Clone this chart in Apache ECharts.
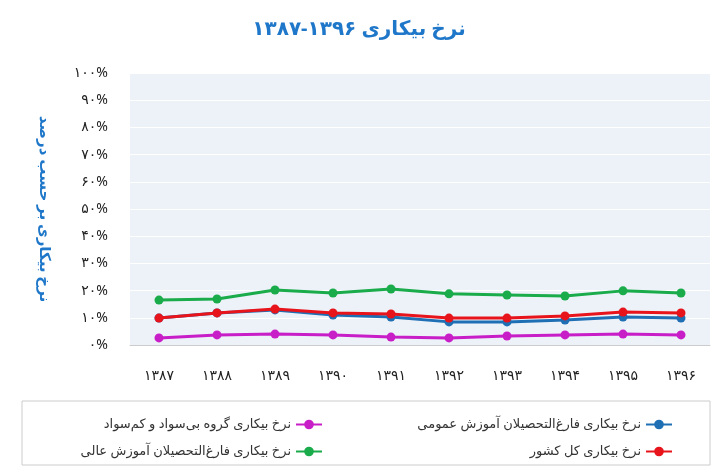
<!DOCTYPE html><html><head><meta charset="utf-8"><script src="https://cdn.jsdelivr.net/npm/echarts@6/dist/echarts.min.js"></script></head><body style="margin:0;background:#fff"><div id="c" style="width:718px;height:473px"></div><script>
const categories=['۱۳۸۷','۱۳۸۸','۱۳۸۹','۱۳۹۰','۱۳۹۱','۱۳۹۲','۱۳۹۳','۱۳۹۴','۱۳۹۵','۱۳۹۶'];
const yTicks=['۰%','۱۰%','۲۰%','۳۰%','۴۰%','۵۰%','۶۰%','۷۰%','۸۰%','۹۰%','۱۰۰%'];
const general=[9.9,11.8,12.9,11.0,10.3,8.5,8.5,9.2,10.3,9.9];
const illiterate=[2.6,3.7,4.0,3.7,2.9,2.6,3.3,3.7,4.0,3.7];
const national=[9.9,11.8,13.2,11.8,11.4,9.9,9.9,10.7,12.1,11.8];
const higher=[16.5,16.9,20.2,19.1,20.6,18.8,18.4,18.0,19.9,19.1];
const names=['نرخ بیکاری فارغ‌التحصیلان آموزش عمومی','نرخ بیکاری گروه بی‌سواد و کم‌سواد','نرخ بیکاری کل کشور','نرخ بیکاری فارغ‌التحصیلان آموزش عالی'];
const colors=['#1f6fb5','#c81ec8','#e8141c','#1aab4b'];
const datas=[general,illiterate,national,higher];
const font='"Noto Sans","DejaVu Sans",sans-serif';
const legPos=[{right:40,top:413},{right:390,top:413},{right:40,top:440},{right:390,top:440}];
const ch=echarts.init(document.getElementById('c'));
ch.setOption({
 title:{text:'نرخ بیکاری ۱۳۹۶-۱۳۸۷',left:'center',top:14,textStyle:{color:'#1f77c9',fontSize:20,fontWeight:'bold',fontFamily:font}},
 graphic:[{type:'rect',shape:{x:22,y:401,width:688,height:64},style:{fill:'none',stroke:'#ccc',lineWidth:1}}],
 legend:names.map((n,i)=>Object.assign({data:[n],align:'right',itemWidth:26,itemHeight:12,textStyle:{fontSize:13,color:'#333',fontFamily:font}},legPos[i])),
 grid:{left:130,right:8,top:73,bottom:128},
 xAxis:{type:'category',data:categories,boundaryGap:true,axisLine:{lineStyle:{color:'#ccc'}},axisTick:{show:false},axisLabel:{fontSize:14,color:'#222',margin:24,fontFamily:font}},
 yAxis:{type:'value',min:0,max:100,interval:10,name:'نرخ بیکاری بر حسب درصد',nameLocation:'middle',nameGap:78,nameRotate:-90,nameTextStyle:{color:'#1f77c9',fontSize:15,fontWeight:'bold',fontFamily:font},
  axisLabel:{formatter:v=>yTicks[v/10],fontSize:14,color:'#222',margin:22,fontFamily:font},axisLine:{show:false},axisTick:{show:false},
  splitLine:{lineStyle:{color:'#ffffff',width:1}},splitArea:{show:true,areaStyle:{color:['#edf2f9','#edf2f9']}}},
 series:datas.map((d,i)=>({name:names[i],type:'line',data:d,symbol:'circle',symbolSize:9,itemStyle:{color:colors[i]},lineStyle:{color:colors[i],width:3},z:i===2?3:2}))
});
</script></body></html>
